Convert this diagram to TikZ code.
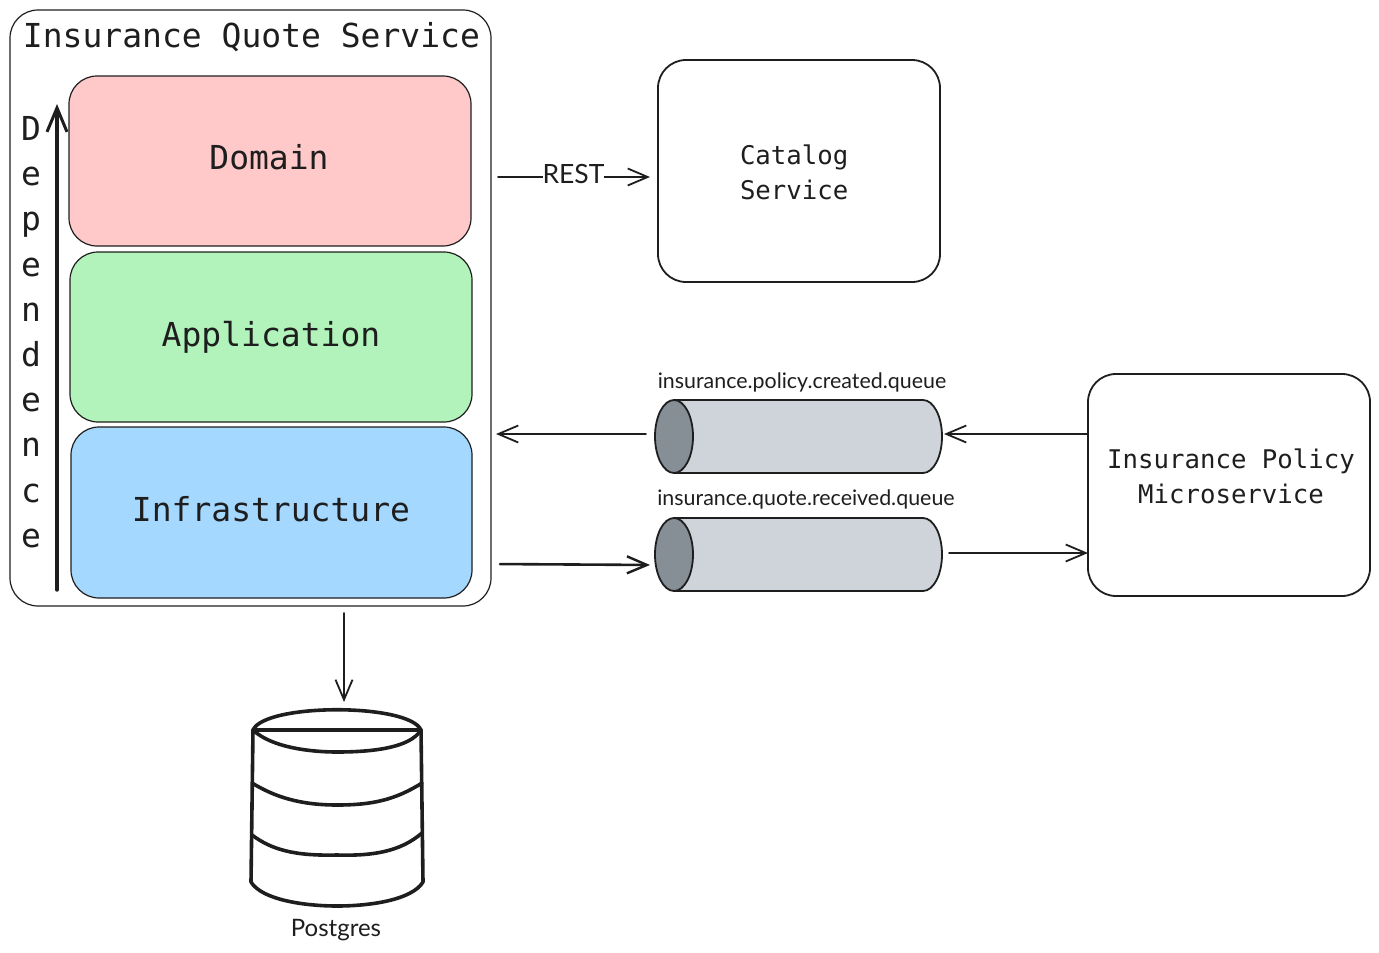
\documentclass[tikz,border=0pt]{standalone}
\usepackage{fontspec}
\setmainfont{DejaVu Sans Mono}
\newfontfamily\handfont{Lato}
\usetikzlibrary{arrows.meta,calc}
\definecolor{ink}{HTML}{1E1E1E}
\definecolor{domainfill}{HTML}{FFC9C9}
\definecolor{appfill}{HTML}{B2F2BB}
\definecolor{infrafill}{HTML}{A5D8FF}
\definecolor{qbody}{HTML}{CED4DA}
\definecolor{qend}{HTML}{868E96}
\tikzset{
  x=1pt,y=-1pt,
  every node/.style={text=ink,inner sep=0pt,outer sep=0pt},
  box/.style={draw=ink,line width=1.2pt,rounded corners=28pt,minimum width=#1,anchor=north west},
  layer/.style={box=402pt,minimum height=170pt},
  service/.style={box=282pt,minimum height=222pt,line width=1.8pt},
  big/.style={font=\fontsize{33}{38}\selectfont},
  mid/.style={font=\fontsize{25.7}{35}\selectfont,align=left},
  small/.style={font=\handfont\fontsize{21.4}{24}\selectfont},
  conn/.style={draw=ink,line width=1.8pt,line cap=round,-{Straight Barb[length=20pt,width=17pt,line width=1.8pt]}},
  queuebox/.style={minimum width=287pt,minimum height=73pt,anchor=north west},
  cyl/.style={draw=ink,line width=3.6pt,line cap=round,line join=round}
}
\newcommand{\qshape}[1]{%
  \fill[qbody] ($(#1.north west)+(19,0)$) -- ($(#1.north east)+(-19,0)$) arc[start angle=90,end angle=-90,x radius=19pt,y radius=36.5pt] -- ($(#1.south west)+(19,0)$) -- cycle;
  \draw[ink,line width=1.8pt] ($(#1.north west)+(19,0)$) -- ($(#1.north east)+(-19,0)$) arc[start angle=90,end angle=-90,x radius=19pt,y radius=36.5pt] -- ($(#1.south west)+(19,0)$);
  \draw[ink,line width=1.8pt,fill=qend] ($(#1.west)+(19,0)$) ellipse[x radius=19pt,y radius=36.5pt];
}
\begin{document}
\begin{tikzpicture}
\useasboundingbox (0,0) rectangle (1379,953);
% outer service and layers
\node[box=481pt,minimum height=596pt] (quote) at (10,10) {};
\node[anchor=north west,big] (quotetitle) at (23,22) {Insurance Quote Service};
\node[layer,fill=domainfill] (domain) at (69,76) {};
\node[big] (domaintext) at (269,157) {Domain};
\node[layer,fill=appfill] (app) at (70,252) {};
\node[big] (apptext) at (271,337) {Application};
\node[layer,fill=infrafill,minimum width=401pt,minimum height=171pt] (infra) at (71,427) {};
\node[big] (infratext) at (271,509) {Infrastructure};
% dependence
\coordinate (depbottom) at (57,590);
\coordinate (deptop) at (57,104);
\draw[conn,line width=3.4pt,-{Straight Barb[length=24pt,width=20pt,line width=3pt]}] (depbottom) -- (deptop);
\node[font=\fontsize{33}{45.2}\selectfont,align=center] (deptext) at (31,332) {D\\e\\p\\e\\n\\d\\e\\n\\c\\e};
% catalog
\node[service] (catalog) at (658,60) {};
\node[mid,anchor=north west] (catalogtext) at (740,145) {Catalog\\Service};
% policy
\node[service] (policy) at (1088,374) {};
\node[mid,align=center] (policytext) at (1231,476) {Insurance Policy\\Microservice};
% queues
\node[queuebox] (q1) at (655,400) {};
\qshape{q1}
\node[small] (q1text) at (802,382) {insurance.policy.created.queue};
\node[queuebox] (q2) at (655,518) {};
\qshape{q2}
\node[small] (q2text) at (806,499) {insurance.quote.received.queue};
% database
\coordinate (dbtl) at (253,730);
\coordinate (dbtr) at (421,730);
\coordinate (dbbl) at (251,882);
\coordinate (dbbr) at (423,882);
\draw[cyl] (dbtl) .. controls (265,703) and (409,703) .. (dbtr);
\draw[cyl] (dbtl) .. controls (272,748) and (312,752) .. (337,752) .. controls (372,752) and (410,748) .. (dbtr);
\draw[cyl,line width=3.2pt] (dbtl) -- (dbtr);
\draw[cyl] (dbtl) -- (dbbl) .. controls (262,900) and (305,906) .. (337,906) .. controls (370,906) and (412,900) .. (dbbr) -- (dbtr);
\draw[cyl] (252,783) .. controls (275,797) and (300,805) .. (337,805) .. controls (372,805) and (395,800) .. (422,783);
\draw[cyl] (252,835) .. controls (272,850) and (295,856) .. (337,855) .. controls (372,856) and (400,852) .. (422,833);
\node[small,font=\handfont\fontsize{24}{26}\selectfont] (dbtext) at (336,930) {Postgres};
\coordinate (dbtop) at (344,709);
\coordinate (quotebottom) at (344,606);
% connectors
\draw[conn,shorten <=7pt,shorten >=8pt] (quote.east |- 0,177) -- (catalog.west |- 0,177);
\node[fill=white,font=\handfont\fontsize{26.5}{28}\selectfont] (rest) at (573.5,174) {REST};
\draw[conn,shorten <=9pt,shorten >=5pt] (q1.west |- 0,434) -- (quote.east |- 0,434);
\draw[conn,shorten >=2pt] (policy.west |- 0,434) -- (q1.east |- 0,434);
\draw[conn,line width=2.6pt,-{Straight Barb[length=20pt,width=17pt,line width=2.4pt]},shorten <=9pt,shorten >=5pt] (quote.east |- 0,564) -- (q2.west |- 0,565);
\draw[conn,shorten <=7pt] (q2.east |- 0,553) -- (policy.west |- 0,553);
\draw[conn,shorten <=7pt,shorten >=7pt] (quotebottom) -- (dbtop);
\end{tikzpicture}
\end{document}
